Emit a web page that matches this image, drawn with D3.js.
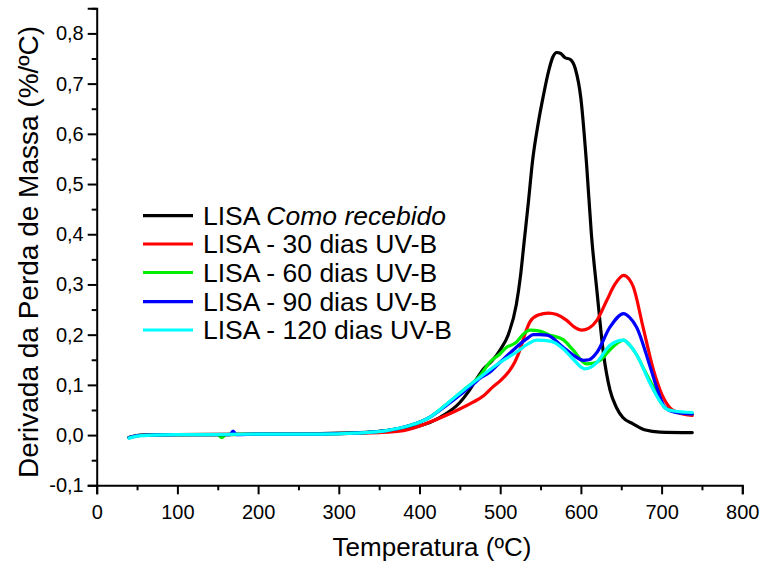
<!DOCTYPE html>
<html><head><meta charset="utf-8">
<script src="https://cdn.jsdelivr.net/npm/d3@7"></script>
<style>body{margin:0;background:#fff}svg{display:block}text{font-family:"Liberation Sans",Arial,sans-serif;fill:#000}</style>
</head><body>
<svg id="c" width="765" height="565"></svg>
<script>
const xTicks = [0,100,200,300,400,500,600,700,800];
const yTicks = [-0.1,0,0.1,0.2,0.3,0.4,0.5,0.6,0.7,0.8];
const legendNames = ["LISA - 30 dias UV-B","LISA - 60 dias UV-B","LISA - 90 dias UV-B","LISA - 120 dias UV-B"];
const colors = ["#000000","#ff0000","#00ee00","#0000ff","#00ffff"];

const tBlack = [40,45,50,60,80,100,150,200,250,300,350,375,400,425,450,460,470,480,490,500,510,520,525,530,535,540,547,553,560,565,570,575,580,587,593,600,607,613,620,628,636,644,652,665,680,698,738];
const vBlack = [-0.005,-0.003,-0.001,0,0.001,0.001,0.001,0.002,0.002,0.004,0.007,0.012,0.018,0.035,0.065,0.085,0.11,0.133,0.148,0.17,0.2,0.26,0.315,0.39,0.465,0.545,0.62,0.672,0.725,0.752,0.762,0.76,0.752,0.748,0.73,0.67,0.54,0.4,0.285,0.162,0.09,0.055,0.035,0.022,0.01,0.006,0.005];

const tRed = [40,50,60,100,200,300,350,380,413,442,467,479,491,500,510,518,525,530,537,547,560,570,582,592,601,610,620,632,642,653,660,665,677,690,700,710,720,738];
const vRed = [-0.005,-0.001,0,0.001,0.002,0.003,0.005,0.009,0.026,0.046,0.066,0.078,0.096,0.108,0.125,0.145,0.172,0.198,0.226,0.239,0.243,0.24,0.229,0.215,0.209,0.213,0.229,0.268,0.3,0.318,0.31,0.295,0.215,0.129,0.082,0.055,0.045,0.039];

const tGreen = [40,50,60,100,150,155,160,200,250,300,359,388,413,434,454,475,487,500,508,515,520,528,537,549,560,578,590,607,615,624,636,653,660,669,680,690,704,715,738];
const vGreen = [-0.005,-0.001,0,0.001,0.001,-0.005,0.001,0.002,0.002,0.003,0.009,0.019,0.036,0.062,0.089,0.118,0.145,0.162,0.175,0.18,0.185,0.2,0.209,0.207,0.2,0.19,0.17,0.142,0.143,0.149,0.17,0.189,0.18,0.16,0.125,0.095,0.055,0.047,0.042];

const tBlue = [40,50,60,100,165,169,173,200,250,300,359,388,413,434,454,467,475,487,500,518,533,541,549,558,578,590,603,610,620,636,653,660,669,686,695,704,715,738];
const vBlue = [-0.005,-0.001,0,0.001,0.001,0.008,0.001,0.002,0.002,0.003,0.009,0.019,0.036,0.06,0.085,0.102,0.113,0.125,0.145,0.172,0.192,0.2,0.2,0.199,0.175,0.16,0.149,0.15,0.165,0.215,0.242,0.235,0.215,0.135,0.09,0.055,0.046,0.042];

const tCyan = [40,50,58,70,100,200,277,320,359,388,413,434,454,479,500,520,535,545,562,578,590,605,612,620,636,653,660,669,686,695,706,715,738];
const vCyan = [-0.006,-0.002,-0.001,0,0.001,0.002,0.002,0.004,0.009,0.019,0.036,0.062,0.089,0.12,0.145,0.165,0.182,0.189,0.187,0.172,0.152,0.132,0.135,0.145,0.179,0.189,0.18,0.16,0.102,0.075,0.052,0.048,0.045];

const series = [
  {t:tBlack, v:vBlack},
  {t:tRed, v:vRed},
  {t:tGreen, v:vGreen},
  {t:tBlue, v:vBlue},
  {t:tCyan, v:vCyan}
];

const svg = d3.select("#c");
const x = d3.scaleLinear().domain([0,800]).range([96.7,742.3]);
const y = d3.scaleLinear().domain([-0.1,0.85]).range([485.3,8.3]);
const fmt = d => d3.format(".1f")(d).replace(".",",").replace("−","-");

// axes
const gx = svg.append("g").attr("transform","translate(0,"+y(-0.1)+")");
gx.call(d3.axisBottom(x).tickValues(xTicks).tickSize(9).tickPadding(11).tickFormat(d3.format("d")));
const gxm = svg.append("g").attr("transform","translate(0,"+y(-0.1)+")");
gxm.call(d3.axisBottom(x).tickValues(d3.range(50,800,100)).tickSize(5).tickFormat(""));
const gy = svg.append("g").attr("transform","translate("+x(0)+",0)");
gy.call(d3.axisLeft(y).tickValues(yTicks).tickSize(9).tickPadding(4).tickFormat(fmt));
const gym = svg.append("g").attr("transform","translate("+x(0)+",0)");
gym.call(d3.axisLeft(y).tickValues([-0.05,0.05,0.15,0.25,0.35,0.45,0.55,0.65,0.75,0.85]).tickSize(5).tickFormat(""));
svg.selectAll(".domain").attr("stroke","#000").attr("stroke-width",2);
gym.select(".domain").remove(); gxm.select(".domain").remove();
svg.selectAll(".tick line").attr("stroke","#000").attr("stroke-width",2);
svg.selectAll(".tick text").style("font-size","20px").style("font-family","'Liberation Sans',Arial,sans-serif");

// lines
const line = d3.line().x(d=>x(d[0])).y(d=>y(d[1])).curve(d3.curveMonotoneX);
series.forEach((s,i)=>{
  svg.append("path").datum(s.t.map((t,j)=>[t,s.v[j]]))
    .attr("d",line).attr("fill","none").attr("stroke",colors[i])
    .attr("stroke-width",3.2).attr("stroke-linejoin","round").attr("stroke-linecap","round");
});

// legend
const ly = [215.7,244,272.5,301.7,330];
ly.forEach((yy,i)=>{
  svg.append("line").attr("x1",143).attr("x2",193).attr("y1",yy).attr("y2",yy)
    .attr("stroke",colors[i]).attr("stroke-width",3.2);
  const t = svg.append("text").attr("x",203).attr("y",yy+9).style("font-size","26.5px");
  if(i===0){
    t.append("tspan").text("LISA ");
    t.append("tspan").style("font-style","italic").text("Como recebido");
  } else {
    t.text(legendNames[i-1]);
  }
});

// axis titles
svg.append("text").attr("x",432).attr("y",556).attr("text-anchor","middle")
  .style("font-size","26px").text("Temperatura (ºC)");
svg.append("text").attr("transform","translate(38,252) rotate(-90)").attr("text-anchor","middle")
  .style("font-size","28px").text("Derivada da Perda de Massa (%/ºC)");
</script>
</body></html>
